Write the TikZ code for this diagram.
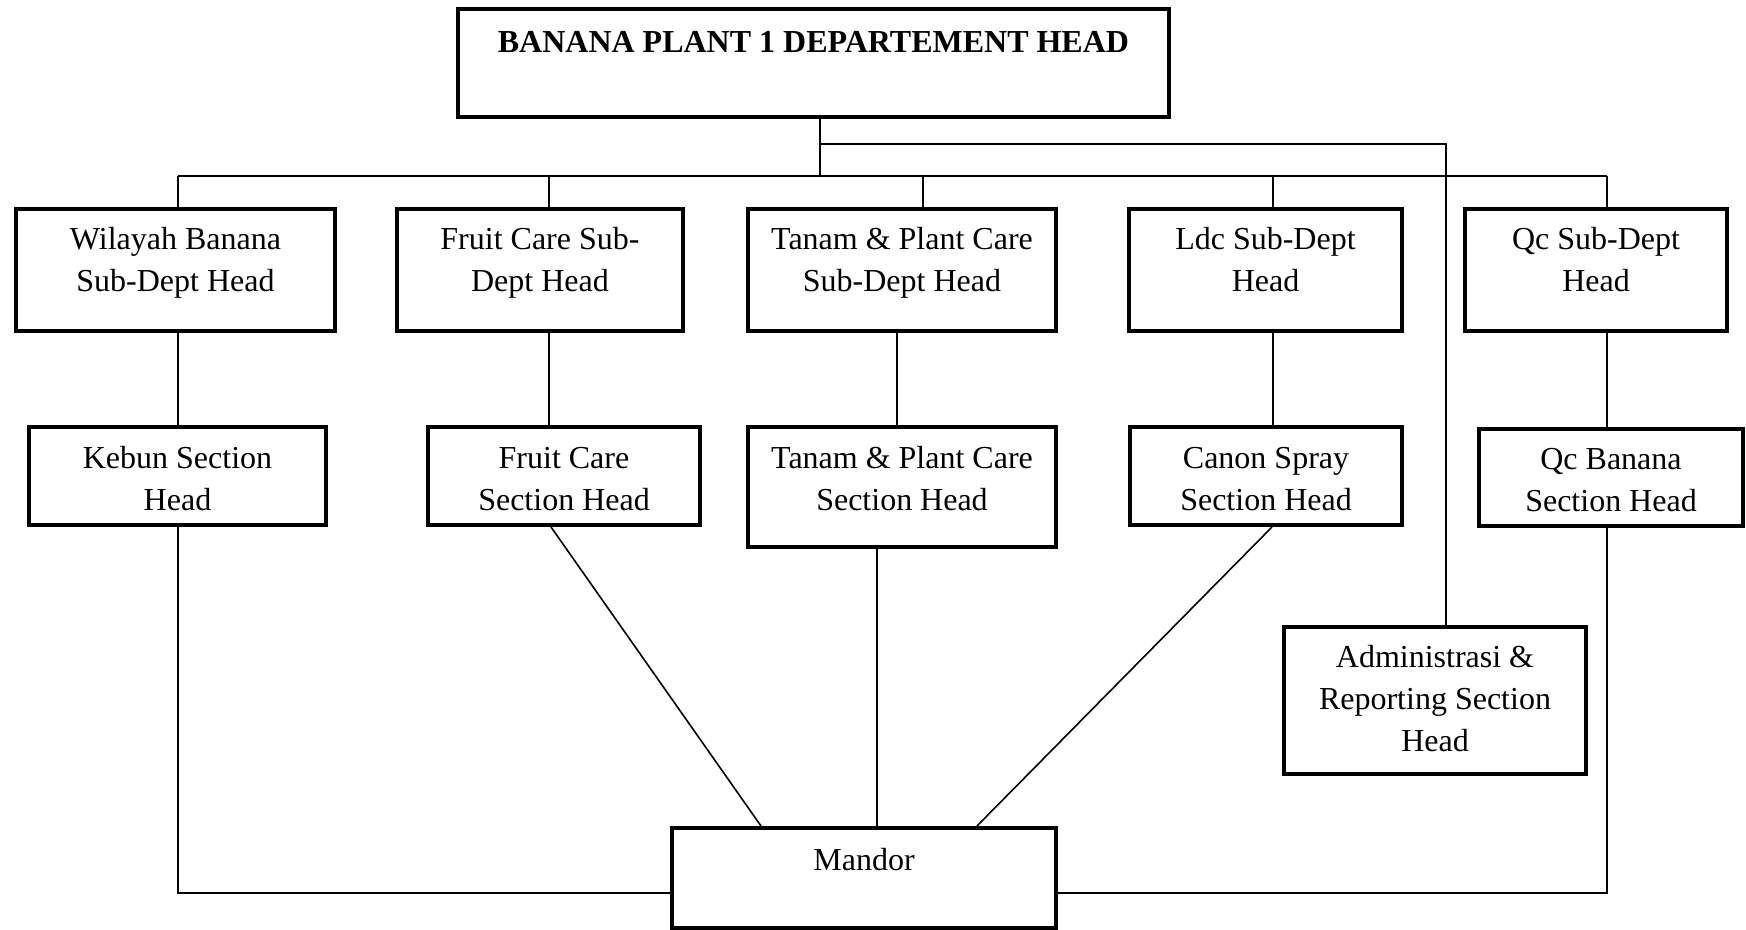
\documentclass[tikz,border=0pt]{standalone}
\usepackage{fontspec}
\setmainfont{Liberation Serif}
\usetikzlibrary{backgrounds}
\tikzset{
  orgbox/.style={draw, line width=2pt, inner sep=0pt, fill=white,
                 font=\fontsize{16}{21}\selectfont},
  link/.style={line width=0.8pt},
}
% #1 width px, #2 height px, #3 top pad, #4 text
\newcommand\boxtxt[4]{\parbox[c][\dimexpr#2pt/2\relax][t]{\dimexpr#1pt/2\relax}{\centering\vspace*{#3}\strut#4\par}}
\begin{document}
\begin{tikzpicture}[x=0.5pt,y=-0.5pt]
\useasboundingbox (0,0) rectangle (1746,930);

% top
\node[orgbox] (top) at (813.5,63) {\boxtxt{711}{108}{6.9pt}{\bfseries BANANA PLANT 1 DEPARTEMENT HEAD}};

% row 1
\node[orgbox] (wil)  at (175.5,270) {\boxtxt{319}{122}{5.8pt}{Wilayah Banana\\Sub-Dept Head}};
\node[orgbox] (fsub) at (540,270)   {\boxtxt{286}{122}{5.8pt}{Fruit Care Sub-\\Dept Head}};
\node[orgbox] (tsub) at (902,270)   {\boxtxt{308}{122}{5.8pt}{Tanam \& Plant Care\\Sub-Dept Head}};
\node[orgbox] (lsub) at (1265.5,270){\boxtxt{273}{122}{5.8pt}{Ldc Sub-Dept\\Head}};
\node[orgbox] (qsub) at (1596,270)  {\boxtxt{262}{122}{5.8pt}{Qc Sub-Dept\\Head}};

% row 2
\node[orgbox] (keb)  at (177.5,476) {\boxtxt{297}{98}{5.9pt}{Kebun Section\\Head}};
\node[orgbox] (fsec) at (564,476)   {\boxtxt{272}{98}{5.9pt}{Fruit Care\\Section Head}};
\node[orgbox] (tsec) at (902,487)   {\boxtxt{308}{120}{5.9pt}{Tanam \& Plant Care\\Section Head}};
\node[orgbox] (can)  at (1266,476)  {\boxtxt{272}{98}{5.9pt}{Canon Spray\\Section Head}};
\node[orgbox] (qsec) at (1611,477.5){\boxtxt{264}{97}{5.5pt}{Qc Banana\\Section Head}};

% admin
\node[orgbox] (adm)  at (1435,700.5){\boxtxt{302}{147}{5.7pt}{Administrasi \&\\Reporting Section\\Head}};

% mandor
\node[orgbox] (man)  at (864,878)   {\boxtxt{384}{100}{6.6pt}{Mandor}};

% junction coordinates
\coordinate (jtop) at (820,176);
\coordinate (ja)   at (820,144);
\coordinate (jb)   at (1446,144);
\coordinate (jw)   at (178,176);
\coordinate (jf)   at (549,176);
\coordinate (jt)   at (923,176);
\coordinate (jl)   at (1273,176);
\coordinate (jq)   at (1607,176);
\coordinate (vt)   at (897,0);
\coordinate (hb)   at (0,893);
\coordinate (fd1)  at (551,0);
\coordinate (fd2)  at (761,0);
\coordinate (td)   at (877,0);
\coordinate (cd1)  at (1272,0);
\coordinate (cd2)  at (977,0);

\begin{pgfonlayer}{background}
  \draw[link] (top.south -| jtop) -- (jtop);
  \draw[link] (ja) -- (jb) -- (adm.north -| jb);
  \draw[link] (jw) -- (jq);
  \draw[link] (jw) -- (wil.north -| jw);
  \draw[link] (jf) -- (fsub.north -| jf);
  \draw[link] (jt) -- (tsub.north -| jt);
  \draw[link] (jl) -- (lsub.north -| jl);
  \draw[link] (jq) -- (qsub.north -| jq);
  % row1 -> row2
  \draw[link] (wil.south -| jw) -- (keb.north -| jw);
  \draw[link] (fsub.south -| jf) -- (fsec.north -| jf);
  \draw[link] (tsub.south -| vt) -- (tsec.north -| vt);
  \draw[link] (lsub.south -| jl) -- (can.north -| jl);
  \draw[link] (qsub.south -| jq) -- (qsec.north -| jq);
  % to mandor
  \draw[link] (keb.south -| jw) |- (man.west |- hb);
  \draw[link] (qsec.south -| jq) |- (man.east |- hb);
  \draw[link] (fsec.south -| fd1) -- (man.north -| fd2);
  \draw[link] (tsec.south -| td) -- (man.north -| td);
  \draw[link] (can.south -| cd1) -- (man.north -| cd2);
\end{pgfonlayer}
\end{tikzpicture}
\end{document}
